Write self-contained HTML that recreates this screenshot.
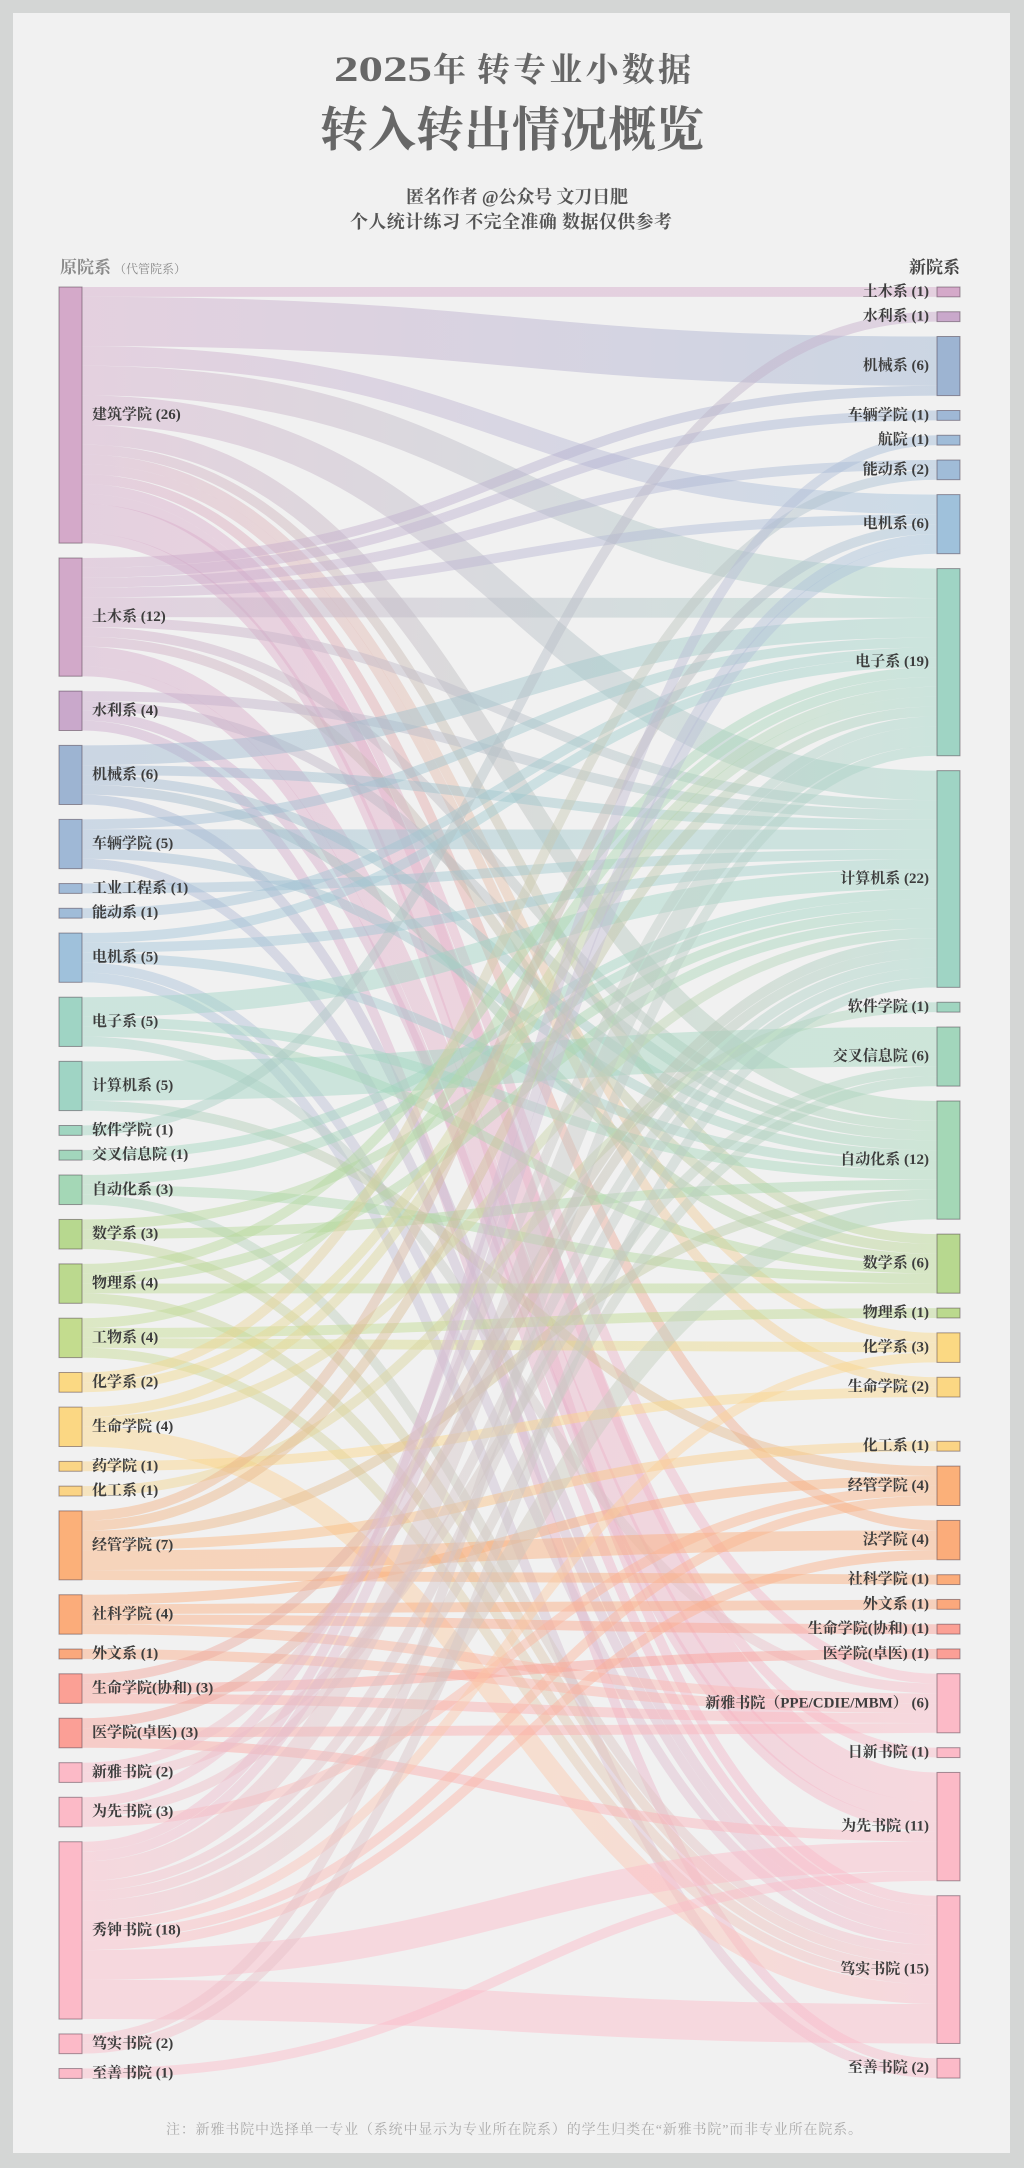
<!DOCTYPE html>
<html lang="zh">
<head>
<meta charset="utf-8">
<style>
  html,body{margin:0;padding:0;background:#d4d6d5;}
  svg{display:block;}
  .t{font-family:"Liberation Serif","Noto Serif CJK SC",serif;}
  .lab{font-family:"Liberation Serif","Noto Serif CJK SC",serif;font-weight:bold;font-size:15px;fill:#3d3d3d;}
</style>
</head>
<body>
<svg id="chart" width="1024" height="2168" viewBox="0 0 1024 2168" xmlns="http://www.w3.org/2000/svg">
  <defs id="defs"></defs>
  <rect x="0" y="0" width="1024" height="2168" fill="#d4d6d5"/>
  <rect x="13" y="13" width="997" height="2140" fill="#f1f1f1"/>

  <!-- titles -->
  <text class="t" x="334" y="81" font-size="36" font-weight="bold" fill="#676767" textLength="98" lengthAdjust="spacingAndGlyphs">2025</text>
  <text class="t" x="433" y="81" font-size="33" font-weight="bold" fill="#676767">年</text>
  <text class="t" x="477" y="81" font-size="33" font-weight="bold" fill="#676767" textLength="214">转专业小数据</text>
  <text class="t" x="512" y="146" font-size="48" font-weight="bold" fill="#676767" text-anchor="middle">转入转出情况概览</text>
  <text class="t" x="406" y="203" font-size="18" font-weight="bold" fill="#555" textLength="222">匿名作者 @公众号 文刀日肥</text>
  <text class="t" x="350" y="228" font-size="18" font-weight="bold" fill="#555" textLength="322">个人统计练习 不完全准确 数据仅供参考</text>

  <!-- headers -->
  <text class="t" x="60" y="273" font-size="17" font-weight="bold" fill="#8a8a8a">原院系<tspan font-size="12" font-weight="normal" dx="3">（代管院系）</tspan></text>
  <text class="t" x="960" y="273" font-size="17" font-weight="bold" fill="#444" text-anchor="end">新院系</text>

  <g id="links"></g>

  <!-- left nodes -->
  <g stroke="rgba(60,40,55,0.45)" stroke-width="1">
    <rect x="59" y="287" width="23" height="256.1" fill="#d4a9c9"/>
    <rect x="59" y="558" width="23" height="118.2" fill="#d2a9c9"/>
    <rect x="59" y="691.1" width="23" height="39.4" fill="#c9a8cb"/>
    <rect x="59" y="745.4" width="23" height="59.1" fill="#9db4d2"/>
    <rect x="59" y="819.4" width="23" height="49.25" fill="#9fb8d6"/>
    <rect x="59" y="883.55" width="23" height="9.85" fill="#a0bbd8"/>
    <rect x="59" y="908.3" width="23" height="9.85" fill="#a0bcd8"/>
    <rect x="59" y="933.05" width="23" height="49.25" fill="#9fc1db"/>
    <rect x="59" y="997.2" width="23" height="49.25" fill="#9fd4c4"/>
    <rect x="59" y="1061.35" width="23" height="49.25" fill="#9fd4c4"/>
    <rect x="59" y="1125.5" width="23" height="9.85" fill="#a0d5c0"/>
    <rect x="59" y="1150.25" width="23" height="9.85" fill="#a2d6bc"/>
    <rect x="59" y="1175" width="23" height="29.55" fill="#a4d7b6"/>
    <rect x="59" y="1219.45" width="23" height="29.55" fill="#b7d88f"/>
    <rect x="59" y="1263.9" width="23" height="39.4" fill="#bbd98e"/>
    <rect x="59" y="1318.2" width="23" height="39.4" fill="#c3dc8e"/>
    <rect x="59" y="1372.5" width="23" height="19.7" fill="#fbd983"/>
    <rect x="59" y="1407.1" width="23" height="39.4" fill="#fbd783"/>
    <rect x="59" y="1461.4" width="23" height="9.85" fill="#fbd585"/>
    <rect x="59" y="1486.15" width="23" height="9.85" fill="#fbd485"/>
    <rect x="59" y="1510.9" width="23" height="68.95" fill="#fbb079"/>
    <rect x="59" y="1594.75" width="23" height="39.4" fill="#fbac7a"/>
    <rect x="59" y="1649.05" width="23" height="9.85" fill="#fba87c"/>
    <rect x="59" y="1673.8" width="23" height="29.55" fill="#fba095"/>
    <rect x="59" y="1718.25" width="23" height="29.55" fill="#fb9f96"/>
    <rect x="59" y="1762.7" width="23" height="19.7" fill="#fcbac7"/>
    <rect x="59" y="1797.3" width="23" height="29.55" fill="#fcbac7"/>
    <rect x="59" y="1841.75" width="23" height="177.3" fill="#fcbac8"/>
    <rect x="59" y="2033.95" width="23" height="19.7" fill="#fcbac8"/>
    <rect x="59" y="2068.55" width="23" height="9.85" fill="#fcbac8"/>
  </g>

  <!-- right nodes -->
  <g stroke="rgba(60,40,55,0.45)" stroke-width="1">
    <rect x="937" y="287" width="23" height="9.85" fill="#d4a9c9"/>
    <rect x="937" y="311.75" width="23" height="9.85" fill="#c9a8cb"/>
    <rect x="937" y="336.5" width="23" height="59.1" fill="#9db4d2"/>
    <rect x="937" y="410.5" width="23" height="9.85" fill="#9fb8d6"/>
    <rect x="937" y="435.25" width="23" height="9.85" fill="#a0bcd8"/>
    <rect x="937" y="460" width="23" height="19.7" fill="#a0bcd8"/>
    <rect x="937" y="494.6" width="23" height="59.1" fill="#9fc1db"/>
    <rect x="937" y="568.6" width="23" height="187.15" fill="#9fd4c4"/>
    <rect x="937" y="770.65" width="23" height="216.7" fill="#9fd4c4"/>
    <rect x="937" y="1002.25" width="23" height="9.85" fill="#a0d5c0"/>
    <rect x="937" y="1027" width="23" height="59.1" fill="#a2d6bc"/>
    <rect x="937" y="1101" width="23" height="118.2" fill="#a4d7b6"/>
    <rect x="937" y="1234.1" width="23" height="59.1" fill="#b7d88f"/>
    <rect x="937" y="1308.1" width="23" height="9.85" fill="#bbd98e"/>
    <rect x="937" y="1332.85" width="23" height="29.55" fill="#fbd983"/>
    <rect x="937" y="1377.3" width="23" height="19.7" fill="#fbd783"/>
    <rect x="937" y="1441.3" width="23" height="9.85" fill="#fbd485"/>
    <rect x="937" y="1466.1" width="23" height="39.4" fill="#fbb079"/>
    <rect x="937" y="1520.4" width="23" height="39.4" fill="#fbac7a"/>
    <rect x="937" y="1574.7" width="23" height="9.85" fill="#fbac7a"/>
    <rect x="937" y="1599.45" width="23" height="9.85" fill="#fba87c"/>
    <rect x="937" y="1624.2" width="23" height="9.85" fill="#fba095"/>
    <rect x="937" y="1648.95" width="23" height="9.85" fill="#fb9f96"/>
    <rect x="937" y="1673.7" width="23" height="59.1" fill="#fcbac7"/>
    <rect x="937" y="1747.7" width="23" height="9.85" fill="#fcbac7"/>
    <rect x="937" y="1772.45" width="23" height="108.35" fill="#fcbac7"/>
    <rect x="937" y="1895.7" width="23" height="147.75" fill="#fcbac8"/>
    <rect x="937" y="2058.35" width="23" height="19.7" fill="#fcbac8"/>
  </g>

  <!-- left labels -->
  <g class="lab" dominant-baseline="central">
    <text class="lab" x="92" y="415.05">建筑学院 (26)</text>
    <text class="lab" x="92" y="617.1">土木系 (12)</text>
    <text class="lab" x="92" y="710.8">水利系 (4)</text>
    <text class="lab" x="92" y="774.95">机械系 (6)</text>
    <text class="lab" x="92" y="844">车辆学院 (5)</text>
    <text class="lab" x="92" y="888.5">工业工程系 (1)</text>
    <text class="lab" x="92" y="913.2">能动系 (1)</text>
    <text class="lab" x="92" y="957.7">电机系 (5)</text>
    <text class="lab" x="92" y="1021.8">电子系 (5)</text>
    <text class="lab" x="92" y="1086">计算机系 (5)</text>
    <text class="lab" x="92" y="1130.4">软件学院 (1)</text>
    <text class="lab" x="92" y="1155.2">交叉信息院 (1)</text>
    <text class="lab" x="92" y="1189.8">自动化系 (3)</text>
    <text class="lab" x="92" y="1234.2">数学系 (3)</text>
    <text class="lab" x="92" y="1283.6">物理系 (4)</text>
    <text class="lab" x="92" y="1337.9">工物系 (4)</text>
    <text class="lab" x="92" y="1382.35">化学系 (2)</text>
    <text class="lab" x="92" y="1426.8">生命学院 (4)</text>
    <text class="lab" x="92" y="1466.3">药学院 (1)</text>
    <text class="lab" x="92" y="1491.1">化工系 (1)</text>
    <text class="lab" x="92" y="1545.4">经管学院 (7)</text>
    <text class="lab" x="92" y="1614.45">社科学院 (4)</text>
    <text class="lab" x="92" y="1654">外文系 (1)</text>
    <text class="lab" x="92" y="1688.6">生命学院(协和) (3)</text>
    <text class="lab" x="92" y="1733">医学院(卓医) (3)</text>
    <text class="lab" x="92" y="1772.55">新雅书院 (2)</text>
    <text class="lab" x="92" y="1812.1">为先书院 (3)</text>
    <text class="lab" x="92" y="1930.4">秀钟书院 (18)</text>
    <text class="lab" x="92" y="2043.8">笃实书院 (2)</text>
    <text class="lab" x="92" y="2073.5">至善书院 (1)</text>
  </g>

  <!-- right labels -->
  <g class="lab" dominant-baseline="central" text-anchor="end">
    <text class="lab" x="929" y="291.9">土木系 (1)</text>
    <text class="lab" x="929" y="316.7">水利系 (1)</text>
    <text class="lab" x="929" y="366.05">机械系 (6)</text>
    <text class="lab" x="929" y="415.4">车辆学院 (1)</text>
    <text class="lab" x="929" y="440.2">航院 (1)</text>
    <text class="lab" x="929" y="469.85">能动系 (2)</text>
    <text class="lab" x="929" y="524.15">电机系 (6)</text>
    <text class="lab" x="929" y="662.2">电子系 (19)</text>
    <text class="lab" x="929" y="879">计算机系 (22)</text>
    <text class="lab" x="929" y="1007.2">软件学院 (1)</text>
    <text class="lab" x="929" y="1056.55">交叉信息院 (6)</text>
    <text class="lab" x="929" y="1160.1">自动化系 (12)</text>
    <text class="lab" x="929" y="1263.65">数学系 (6)</text>
    <text class="lab" x="929" y="1313">物理系 (1)</text>
    <text class="lab" x="929" y="1347.6">化学系 (3)</text>
    <text class="lab" x="929" y="1387.15">生命学院 (2)</text>
    <text class="lab" x="929" y="1446.2">化工系 (1)</text>
    <text class="lab" x="929" y="1485.8">经管学院 (4)</text>
    <text class="lab" x="929" y="1540.1">法学院 (4)</text>
    <text class="lab" x="929" y="1579.6">社科学院 (1)</text>
    <text class="lab" x="929" y="1604.4">外文系 (1)</text>
    <text class="lab" x="929" y="1629.1">生命学院(协和) (1)</text>
    <text class="lab" x="929" y="1653.9">医学院(卓医) (1)</text>
    <text class="lab" x="929" y="1703.25">新雅书院（PPE/CDIE/MBM） (6)</text>
    <text class="lab" x="929" y="1752.6">日新书院 (1)</text>
    <text class="lab" x="929" y="1826.6">为先书院 (11)</text>
    <text class="lab" x="929" y="1969.6">笃实书院 (15)</text>
    <text class="lab" x="929" y="2068.2">至善书院 (2)</text>
  </g>

  <!-- footnote -->
  <text class="t" x="166" y="2134" font-size="14" fill="#ababab" textLength="696">注：新雅书院中选择单一专业（系统中显示为专业所在院系）的学生归类在“新雅书院”而非专业所在院系。</text>
</svg>

<script>
(function(){
  var NS = "http://www.w3.org/2000/svg";
  var u = 9.85, X0 = 82, X1 = 937, XM = (X0 + X1) / 2;
  var LY = [287,558,691.1,745.4,819.4,883.55,908.3,933.05,997.2,1061.35,1125.5,1150.25,1175,1219.45,1263.9,1318.2,1372.5,1407.1,1461.4,1486.15,1510.9,1594.75,1649.05,1673.8,1718.25,1762.7,1797.3,1841.75,2033.95,2068.55];
  var RY = [287,311.75,336.5,410.5,435.25,460,494.6,568.6,770.65,1002.25,1027,1101,1234.1,1308.1,1332.85,1377.3,1441.3,1466.1,1520.4,1574.7,1599.45,1624.2,1648.95,1673.7,1747.7,1772.45,1895.7,2058.35];
  var LC = ['#d4a9c9','#d2a9c9','#c9a8cb','#9db4d2','#9fb8d6','#a0bbd8','#a0bcd8','#9fc1db','#9fd4c4','#9fd4c4','#a0d5c0','#a2d6bc','#a4d7b6','#b7d88f','#bbd98e','#c3dc8e','#fbd983','#fbd783','#fbd585','#fbd485','#fbb079','#fbac7a','#fba87c','#fba095','#fb9f96','#fcbac7','#fcbac7','#fcbac8','#fcbac8','#fcbac8'];
  var RC = ['#d4a9c9','#c9a8cb','#9db4d2','#9fb8d6','#a0bcd8','#a0bcd8','#9fc1db','#9fd4c4','#9fd4c4','#a0d5c0','#a2d6bc','#a4d7b6','#b7d88f','#bbd98e','#fbd983','#fbd783','#fbd485','#fbb079','#fbac7a','#fbac7a','#fba87c','#fba095','#fb9f96','#fcbac7','#fcbac7','#fcbac7','#fcbac8','#fcbac8'];
  var links = [
    [0,0,1],[0,2,5],[0,6,2],[0,7,3],[0,8,3],[0,11,2],[0,12,1],[0,14,1],[0,15,1],[0,18,1],[0,23,1],[0,24,1],[0,25,3],[0,26,1],
    [1,2,1],[1,3,1],[1,5,1],[1,6,1],[1,7,2],[1,8,1],[1,11,1],[1,12,1],[1,25,2],[1,26,1],
    [2,8,1],[2,11,1],[2,25,1],[2,27,1],
    [3,7,2],[3,8,1],[3,11,1],[3,12,1],[3,26,1],
    [4,7,1],[4,8,2],[4,11,1],[4,26,1],
    [5,8,1],
    [6,7,1],
    [7,7,1],[7,8,1],[7,11,1],[7,26,1],[7,27,1],
    [8,8,2],[8,11,1],[8,12,1],[8,23,1],
    [9,10,4],[9,17,1],
    [10,1,1],
    [11,8,1],
    [12,8,1],[12,12,1],[12,26,1],
    [13,8,1],[13,11,1],[13,26,1],
    [14,7,1],[14,8,1],[14,12,1],[14,26,1],
    [15,7,1],[15,13,1],[15,14,1],[15,26,1],
    [16,5,1],[16,7,1],
    [17,7,1],[17,8,1],[17,26,2],
    [18,15,1],
    [19,9,1],
    [20,6,1],[20,7,1],[20,11,1],[20,16,1],[20,18,2],[20,19,1],
    [21,17,1],[21,20,1],[21,21,1],[21,23,1],
    [22,23,1],
    [23,8,1],[23,22,1],[23,23,1],
    [24,8,1],[24,23,1],[24,25,1],
    [25,7,1],[25,10,1],
    [26,6,1],[26,8,1],[26,17,1],
    [27,4,1],[27,6,1],[27,7,2],[27,8,1],[27,10,1],[27,11,2],[27,14,1],[27,17,1],[27,18,1],[27,25,3],[27,26,4],
    [28,7,1],[28,8,1],
    [29,25,1]
  ];
  var objs = links.map(function(l){ return {s:l[0], t:l[1], v:l[2]}; });
  var sOff = LY.slice(), tOff = RY.slice();
  objs.slice().sort(function(a,b){ return a.s-b.s || a.t-b.t; }).forEach(function(l){
    l.sy = sOff[l.s] + l.v*u/2; sOff[l.s] += l.v*u;
  });
  objs.slice().sort(function(a,b){ return a.t-b.t || a.s-b.s; }).forEach(function(l){
    l.ty = tOff[l.t] + l.v*u/2; tOff[l.t] += l.v*u;
  });
  var defs = document.getElementById('defs');
  var g = document.getElementById('links');
  objs.forEach(function(l, i){
    var gr = document.createElementNS(NS, 'linearGradient');
    gr.setAttribute('id', 'lg' + i);
    gr.setAttribute('gradientUnits', 'userSpaceOnUse');
    gr.setAttribute('x1', X0); gr.setAttribute('x2', X1);
    gr.setAttribute('y1', 0); gr.setAttribute('y2', 0);
    var s1 = document.createElementNS(NS, 'stop');
    s1.setAttribute('offset', '0'); s1.setAttribute('stop-color', LC[l.s]);
    var s2 = document.createElementNS(NS, 'stop');
    s2.setAttribute('offset', '1'); s2.setAttribute('stop-color', RC[l.t]);
    gr.appendChild(s1); gr.appendChild(s2);
    defs.appendChild(gr);
    var p = document.createElementNS(NS, 'path');
    p.setAttribute('d', 'M' + X0 + ',' + l.sy + 'C' + XM + ',' + l.sy + ' ' + XM + ',' + l.ty + ' ' + X1 + ',' + l.ty);
    p.setAttribute('fill', 'none');
    p.setAttribute('stroke', 'url(#lg' + i + ')');
    p.setAttribute('stroke-width', (l.v*u).toFixed(2));
    p.setAttribute('stroke-opacity', '0.45');
    g.appendChild(p);
  });
})();
</script>
</body>
</html>
